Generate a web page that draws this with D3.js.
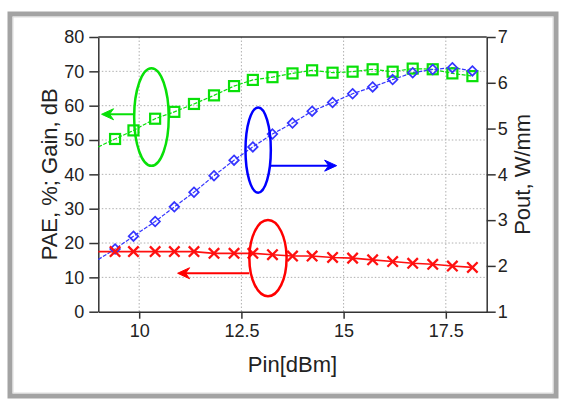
<!DOCTYPE html>
<html><head><meta charset="utf-8">
<script src="https://cdn.jsdelivr.net/npm/d3@7"></script>
<style>
body{margin:0;background:#fff}
svg{display:block}
text{font-family:"Liberation Sans",Arial,sans-serif;fill:#222}
</style>
</head><body>
<script>
// ---- data ----
const pinDbm  = [9.41,9.86,10.39,10.86,11.34,11.83,12.32,12.78,13.26,13.75,14.23,14.73,15.22,15.71,16.20,16.69,17.18,17.66,18.15];
const paeGreen = [50.3,52.8,56.2,58.2,60.5,63.0,65.7,67.5,68.3,69.4,70.3,69.6,69.9,70.6,69.9,70.8,70.6,69.4,68.6];
const poutBlue = [2.37,2.65,2.97,3.29,3.61,3.97,4.31,4.60,4.88,5.12,5.38,5.57,5.76,5.91,6.07,6.22,6.29,6.33,6.26];
const gainRed  = [17.5,17.5,17.5,17.5,17.5,17.0,17.0,17.0,16.6,16.2,16.2,15.8,15.6,15.1,14.6,14.1,13.8,13.3,12.9];
// fitted curves start at the left edge
const lineStartX = 9;
const greenStart = 48.0, blueStart = 2.14, redStart = 17.5;

const xTicks = [10,12.5,15,17.5];
const yLeftTicks = [0,10,20,30,40,50,60,70,80];
const yRightTicks = [1,2,3,4,5,6,7];

// ---- layout ----
const W=565,H=402;
const L=98.3,R=486.7,T=37,B=311.7;

const svg=d3.select("body").append("svg").attr("width",W).attr("height",H);

// outer frame
svg.append("rect").attr("x",10).attr("y",14).attr("width",546).attr("height",382)
  .attr("fill","#fff").attr("stroke","#a3a3a3").attr("stroke-width",5);
svg.append("rect").attr("x",13).attr("y",17).attr("width",540).attr("height",376)
  .attr("fill","none").attr("stroke","#dcdcdc").attr("stroke-width",1);

const x=d3.scaleLinear().domain([9,18.5]).range([L,R]);
const yL=d3.scaleLinear().domain([0,80]).range([B,T]);
const yR=d3.scaleLinear().domain([1,7]).range([B,T]);

// grid
const grid=svg.append("g").attr("stroke","#b0b0b0").attr("stroke-width",1).attr("stroke-dasharray","1.5,2");
xTicks.forEach(v=>grid.append("line").attr("x1",x(v)).attr("x2",x(v)).attr("y1",T).attr("y2",B));
yLeftTicks.filter(v=>v>0&&v<80).forEach(v=>grid.append("line").attr("x1",L).attr("x2",R).attr("y1",yL(v)).attr("y2",yL(v)));

// axes
function styleAxis(g){
  g.select(".domain").attr("stroke","#333").attr("stroke-width",1.5);
  g.selectAll(".tick line").attr("stroke","#333").attr("stroke-width",1.5);
  g.selectAll(".tick text").style("font-size","18px").attr("fill","#222");
}
svg.append("g").attr("transform",`translate(0,${B})`)
  .call(d3.axisBottom(x).tickValues(xTicks).tickFormat(d3.format("~g")).tickSizeInner(7).tickSizeOuter(0).tickPadding(6))
  .call(styleAxis);
svg.append("g").attr("transform",`translate(${L},0)`)
  .call(d3.axisLeft(yL).tickValues(yLeftTicks).tickFormat(d3.format("d")).tickSizeInner(9).tickSizeOuter(0).tickPadding(5))
  .call(styleAxis);
svg.append("g").attr("transform",`translate(${R},0)`)
  .call(d3.axisRight(yR).tickValues(yRightTicks).tickFormat(d3.format("d")).tickSizeInner(9).tickSizeOuter(0).tickPadding(2))
  .call(styleAxis);
// top border
svg.append("line").attr("x1",L).attr("x2",R).attr("y1",T).attr("y2",T).attr("stroke","#333").attr("stroke-width",1.5);

// titles
svg.append("text").attr("x",(L+R)/2).attr("y",372).attr("text-anchor","middle").style("font-size","22px").text("Pin[dBm]");
svg.append("text").attr("transform",`translate(56.5,${(T+B)/2}) rotate(-90)`).attr("text-anchor","middle").style("font-size","22px").text("PAE, %; Gain, dB");
svg.append("text").attr("transform",`translate(530,${(T+B)/2}) rotate(-90)`).attr("text-anchor","middle").style("font-size","22px").text("Pout, W/mm");

const plot=svg.append("g");
const green="#08e008", blue="#3535ff", red="#ff1010";

// lines
const lineL=d3.line().x(d=>x(d[0])).y(d=>yL(d[1]));
const lineR=d3.line().x(d=>x(d[0])).y(d=>yR(d[1]));
const gPts=[[lineStartX,greenStart]].concat(pinDbm.map((p,i)=>[p,paeGreen[i]]));
const bPts=[[lineStartX,blueStart]].concat(pinDbm.map((p,i)=>[p,poutBlue[i]]));
const rPts=[[lineStartX,redStart]].concat(pinDbm.map((p,i)=>[p,gainRed[i]]));
plot.append("path").attr("d",lineL(gPts)).attr("fill","none").attr("stroke",green).attr("stroke-width",1.2).attr("stroke-dasharray","4,1.5");
plot.append("path").attr("d",lineR(bPts)).attr("fill","none").attr("stroke",blue).attr("stroke-width",1.2).attr("stroke-dasharray","4,1.5");
plot.append("path").attr("d",lineL(rPts)).attr("fill","none").attr("stroke",red).attr("stroke-width",1.6);

// markers
pinDbm.forEach((p,i)=>{
  plot.append("rect").attr("x",x(p)-5).attr("y",yL(paeGreen[i])-5).attr("width",10).attr("height",10)
    .attr("fill","none").attr("stroke",green).attr("stroke-width",2.2);
});
pinDbm.forEach((p,i)=>{
  const cx=x(p),cy=yR(poutBlue[i]),s=4.8;
  plot.append("path").attr("d",`M${cx},${cy-s}L${cx+s},${cy}L${cx},${cy+s}L${cx-s},${cy}Z`)
    .attr("fill","none").attr("stroke",blue).attr("stroke-width",1.7);
});
pinDbm.forEach((p,i)=>{
  const cx=x(p),cy=yL(gainRed[i]),s=5.2;
  plot.append("path").attr("d",`M${cx-s},${cy-s}L${cx+s},${cy+s}M${cx-s},${cy+s}L${cx+s},${cy-s}`)
    .attr("fill","none").attr("stroke",red).attr("stroke-width",2.3);
});

// annotations (ellipse centre & half-sizes in data units, arrow from/to in data units)
const annGreen = {cx:10.30, cy:56.7, rx:0.423, ry:14.2, ax1:9.86, ax2:9.08, ay:57.5, axis:"L", color:"#08e008"};
const annBlue  = {cx:12.91, cy:4.53, rx:0.31,  ry:0.93, ax1:13.20, ax2:14.83, ay:4.19, axis:"R", color:"#0000ff"};
const annRed   = {cx:13.15, cy:15.6, rx:0.455, ry:11.1, ax1:12.69, ax2:10.94, ay:11.2, axis:"L", color:"#ff0000"};

function drawAnn(a){
  const ys=a.axis==="L"?yL:yR;
  const cx=x(a.cx), cy=ys(a.cy);
  const rx=x(a.cx+a.rx)-cx, ry=cy-ys(a.cy+a.ry);
  svg.append("ellipse").attr("cx",cx).attr("cy",cy).attr("rx",rx).attr("ry",ry)
    .attr("fill","none").attr("stroke",a.color).attr("stroke-width",2.5);
  const x1=x(a.ax1), x2=x(a.ax2), yy=ys(a.ay);
  const dir=x2>x1?1:-1;
  svg.append("line").attr("x1",x1).attr("x2",x2-dir*6).attr("y1",yy).attr("y2",yy)
    .attr("stroke",a.color).attr("stroke-width",2);
  svg.append("path").attr("d",`M${x2},${yy}L${x2-dir*12},${yy-5.5}L${x2-dir*8},${yy}L${x2-dir*12},${yy+5.5}Z`)
    .attr("fill",a.color).attr("stroke",a.color).attr("stroke-width",1);
}
[annGreen,annBlue,annRed].forEach(drawAnn);
</script>
</body></html>
